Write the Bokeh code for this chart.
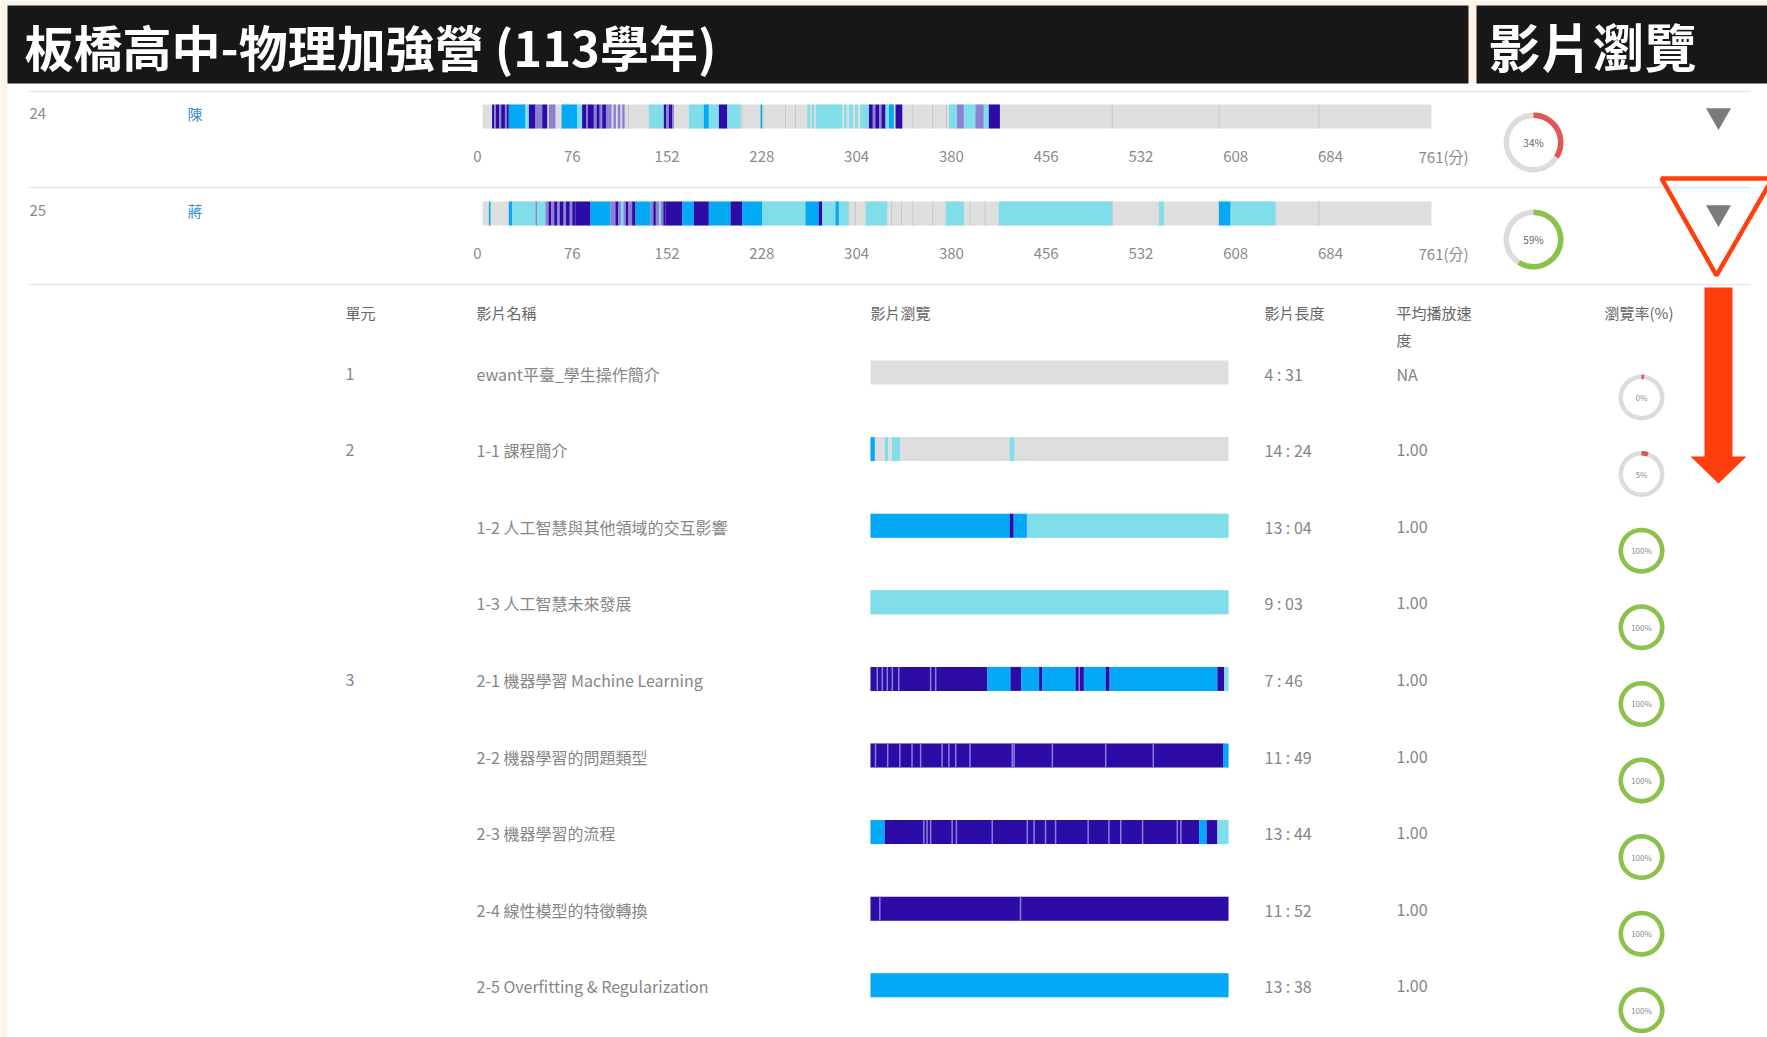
import math
from bokeh.plotting import figure
from bokeh.models import Range1d, ColumnDataSource
from bokeh.core.properties import value
from bokeh.embed import file_html
from bokeh.resources import INLINE

# ---------------- data ----------------
title_text = "板橋高中-物理加強營 (113學年)"
panel_title = "影片瀏覽"

total_minutes = 761
timeline_ticks = [0, 76, 152, 228, 304, 380, 456, 532, 608, 684, 761]
tick_unit = "(分)"

student_ids = ["24", "25"]
student_names = ["陳", "蔣"]
student_rates = [34, 59]

# boundaries between course videos (minutes), visible as thin lines in grey parts
video_boundaries = [117, 208, 225, 243, 251, 299, 328, 336, 345, 361, 372, 391, 403, 505, 590.5, 670.7]

# (start minute, end minute, level)  level: 1 viewed once, 2 twice, 3 many, 4 mixed
segments_24 = [
    (7.7, 9.5, 3), (9.5, 10.8, 4), (10.8, 13.5, 3), (13.5, 15, 4), (15, 18, 3), (18, 19.5, 4), (19.5, 21.1, 3),
    (21.1, 34.5, 2), (34.5, 37.2, 1), (37.2, 42.5, 3), (42.5, 47.9, 4), (47.9, 51.9, 3), (53.2, 58.5, 4),
    (63.4, 75.9, 2), (75.9, 79.9, 1),
    (79.9, 83, 3), (83, 84.5, 4), (84.5, 89.3, 3), (89.3, 91.5, 4), (91.5, 94, 3), (94, 96, 4), (96, 99, 3),
    (99, 101.3, 4), (101.3, 103.5, 4), (105, 107, 4), (108.5, 110.5, 4), (112, 114, 4),
    (133.4, 145.4, 1), (145.4, 147.5, 3), (147.5, 149.5, 4), (149.5, 152, 3), (152, 153.4, 4),
    (165.5, 177.5, 1), (177.5, 181.5, 2), (181.5, 189.6, 1), (189.6, 196.3, 3), (196.3, 206.9, 1),
    (223, 224.3, 2),
    (260.4, 262.5, 1), (264, 266, 1), (267.5, 288.5, 1), (290, 292, 1), (294, 297, 1), (299, 301, 1), (303, 309.9, 1),
    (309.9, 313, 3), (313, 315, 4), (315, 318, 3), (318, 320, 4), (320, 323.2, 3), (323.2, 325.9, 1),
    (325.9, 329.9, 2), (331.2, 336.6, 3),
    (374, 380.6, 1), (380.6, 386, 4), (386, 395.3, 1), (395.3, 402, 4), (402, 406, 1), (406, 414.9, 3),
]

segments_25 = [
    (5.1, 6.4, 2), (21.1, 23.8, 2), (23.8, 42.5, 1), (42.5, 44, 4), (44, 50.5, 1),
    (50.5, 53, 4), (53, 55, 3), (55, 57.5, 4), (57.5, 60, 3), (60, 62, 4), (62, 65, 3), (65, 67, 4),
    (67, 70, 3), (70, 72, 4), (72, 74.6, 3),
    (74.6, 86.6, 3), (86.6, 102.7, 2), (102.7, 106.6, 4),
    (106.6, 109, 3), (109, 111, 4), (111, 113, 1), (113, 115, 4), (115, 117, 3), (117, 120, 4),
    (120, 122.7, 3), (122.7, 134.7, 2),
    (134.7, 137, 4), (137, 139, 3), (139, 141.5, 4), (141.5, 143, 1), (143, 145, 4), (145, 146.8, 3),
    (146.8, 160.1, 3), (160.1, 169.5, 2), (169.5, 181.5, 3), (181.5, 198.9, 2), (198.9, 208.2, 3),
    (208.2, 224.3, 2), (224.3, 259, 1), (259, 269.7, 2), (269.7, 272.4, 3), (272.4, 283.1, 1),
    (283.1, 285.8, 2), (285.8, 293.8, 1), (307.2, 324.5, 1), (371.5, 386, 1), (414, 505, 1),
    (542.4, 546.4, 1), (590.6, 599.9, 2), (599.9, 636, 1),
]

header_labels = ["單元", "影片名稱", "影片瀏覽", "影片長度", "平均播放速", "瀏覽率(%)"]
header_wrap = "度"

units = ["1", "2", "", "", "3", "", "", "", ""]
video_names = [
    "ewant平臺_學生操作簡介",
    "1-1 課程簡介",
    "1-2 人工智慧與其他領域的交互影響",
    "1-3 人工智慧未來發展",
    "2-1 機器學習 Machine Learning",
    "2-2 機器學習的問題類型",
    "2-3 機器學習的流程",
    "2-4 線性模型的特徵轉換",
    "2-5 Overfitting & Regularization",
]
video_lengths = ["4 : 31", "14 : 24", "13 : 04", "9 : 03", "7 : 46", "11 : 49", "13 : 44", "11 : 52", "13 : 38"]
play_speeds = ["NA", "1.00", "1.00", "1.00", "1.00", "1.00", "1.00", "1.00", "1.00"]
view_rates = [0, 5, 100, 100, 100, 100, 100, 100, 100]

# per video: (start fraction, end fraction, level)
video_segments = [
    [],
    [(0, 0.012, 2), (0.04, 0.049, 1), (0.06, 0.082, 1), (0.389, 0.402, 1)],
    [(0, 0.389, 2), (0.389, 0.4, 3), (0.4, 0.437, 2), (0.437, 1, 1)],
    [(0, 1, 1)],
    [(0, 0.326, 3), (0.326, 0.391, 2), (0.391, 0.421, 3), (0.421, 0.471, 2), (0.471, 0.48, 3),
     (0.48, 0.573, 2), (0.573, 0.596, 3), (0.596, 0.657, 2), (0.657, 0.668, 3), (0.668, 0.969, 2),
     (0.969, 0.988, 3), (0.988, 1, 1)],
    [(0, 0.986, 3), (0.986, 1, 2)],
    [(0, 0.04, 2), (0.04, 0.918, 3), (0.918, 0.939, 2), (0.939, 0.969, 3), (0.969, 1, 1)],
    [(0, 1, 3)],
    [(0, 1, 2)],
]
# thin lighter marks inside the heavily viewed parts
video_marks = [
    [], [], [], [],
    [0.019, 0.033, 0.047, 0.061, 0.079, 0.168, 0.182, 0.583],
    [0.014, 0.048, 0.082, 0.116, 0.140, 0.200, 0.219, 0.238, 0.278, 0.396, 0.401, 0.508, 0.657, 0.790],
    [0.149, 0.158, 0.168, 0.228, 0.240, 0.340, 0.438, 0.457, 0.489, 0.517, 0.608, 0.666, 0.699, 0.760, 0.857, 0.867],
    [0.026, 0.419],
    [],
]

# ---------------- styling / layout ----------------
FONT = "Noto Sans CJK TC"
LEVEL_COLORS = {1: "#80deea", 2: "#03a9f4", 3: "#2d0ba6", 4: "#8c80d2"}
GREY_BAR = "#dedede"
TEXT_GREY = "#858585"
RED = "#ff3d0d"

W, H = 1767, 1037
X0, Y0 = 0, 0                        # plot units equal reference pixels
TL_LEFT, TL_RIGHT = 482, 1431        # timeline bar span (px)
VB_LEFT, VB_RIGHT = 870, 1228        # per-video bar span (px)

p = figure(width=W, height=H, x_range=Range1d(X0, X0 + W), y_range=Range1d(Y0 + H, Y0),
           output_backend="svg", toolbar_location=None, x_axis_location=None, y_axis_location=None,
           min_border=0)
p.grid.visible = False
p.outline_line_color = None
p.background_fill_color = "#ffffff"
p.border_fill_color = "#ffffff"

# minute scale for timelines
k_min = (TL_RIGHT - TL_LEFT) / total_minutes
p.extra_x_ranges["min"] = Range1d(-(TL_LEFT - X0) / k_min, total_minutes + (X0 + W - TL_RIGHT) / k_min)
# fraction scale for per-video bars
k_fr = VB_RIGHT - VB_LEFT
p.extra_x_ranges["frac"] = Range1d(-(VB_LEFT - X0) / k_fr, 1 + (X0 + W - VB_RIGHT) / k_fr)

# ---- page edge tint ----
p.quad(left=[0, 0, 1468], right=[7, 1767, 1476], top=[0, 0, 0], bottom=[1037, 5, 83],
       fill_color="#fdf3e9", line_color=None)

# ---- title bars ----
p.quad(left=[7, 1476], right=[1468, 1767], top=[5, 5], bottom=[83, 83], fill_color="#171717", line_color=None)
p.text(x=[24], y=[45], text=[title_text], text_font=value(FONT), text_font_style="bold",
       text_font_size="49px", text_color="white", text_baseline="middle")
p.text(x=[1488], y=[45], text=[panel_title], text_font=value(FONT), text_font_style="bold",
       text_font_size="52px", text_color="white", text_baseline="middle")

# ---- separators ----
p.segment(x0=[28, 28, 28], x1=[1750, 1750, 1750], y0=[91, 187, 284], y1=[91, 187, 284],
          line_color="#e6e6e6", line_width=1.5)

# ---- student timelines ----
STUDENT_Y = [116, 213]
BAR_H = 12
for i, segs in enumerate([segments_24, segments_25]):
    yc = STUDENT_Y[i]
    p.quad(left=[0], right=[total_minutes], top=[yc - BAR_H], bottom=[yc + BAR_H],
           fill_color=GREY_BAR, line_color=None, x_range_name="min")
    p.segment(x0=video_boundaries, x1=video_boundaries, y0=[yc - BAR_H] * len(video_boundaries),
              y1=[yc + BAR_H] * len(video_boundaries), line_color="#c8c8c8", line_width=1, x_range_name="min")
    src = ColumnDataSource(dict(
        left=[s[0] for s in segs], right=[s[1] for s in segs],
        top=[yc - BAR_H] * len(segs), bottom=[yc + BAR_H] * len(segs),
        color=[LEVEL_COLORS[s[2]] for s in segs]))
    p.quad(left="left", right="right", top="top", bottom="bottom", fill_color="color",
           line_color=None, source=src, x_range_name="min")
    # tick labels
    labels = [str(t) for t in timeline_ticks[:-1]]
    p.text(x=timeline_ticks[:-1], y=[yc + 40] * len(labels), text=labels, text_font=value(FONT),
           text_font_size="15px", text_color="#8a8a8a", text_align="center", text_baseline="middle",
           x_offset=-5, x_range_name="min")
    p.text(x=[timeline_ticks[-1]], y=[yc + 40], text=[f"{timeline_ticks[-1]}{tick_unit}"], text_font=value(FONT),
           text_font_size="15px", text_color="#8a8a8a", text_align="left", text_baseline="middle",
           x_offset=-13, x_range_name="min")
    # id + name
    p.text(x=[29], y=[yc - 3], text=[student_ids[i]], text_font=value(FONT), text_font_size="15px",
           text_color="#8a8a8a", text_baseline="middle")
    p.text(x=[187], y=[yc - 3], text=[student_names[i]], text_font=value(FONT), text_font_size="15px",
           text_color="#3f8fcf", text_baseline="middle")
    # rate ring
    rate = student_rates[i]
    ring_col = "#8bc34a" if rate >= 50 else "#e05656"
    cx, cy = 1533, yc + 26
    p.annulus(x=[cx], y=[cy], inner_radius=24.5, outer_radius=30, inner_radius_units="screen",
              outer_radius_units="screen", fill_color="#dcdcdc", line_color=None)
    p.annular_wedge(x=[cx], y=[cy], inner_radius=24.5, outer_radius=30, inner_radius_units="screen",
                    outer_radius_units="screen", start_angle=math.pi / 2,
                    end_angle=math.pi / 2 - 2 * math.pi * rate / 100, direction="clock",
                    fill_color=ring_col, line_color=None)
    p.text(x=[cx], y=[cy], text=[f"{rate}%"], text_font=value(FONT), text_font_size="10px",
           text_color="#666666", text_align="center", text_baseline="middle")
    # expand triangle
    p.scatter(x=[1718], y=[yc - 1], marker="inverted_triangle", size=25, fill_color="#7b7b7b", line_color=None)

# ---- detail table header ----
HEAD_Y = 312
head_x = [345, 476, 870, 1264, 1396, 1604]
p.text(x=head_x, y=[HEAD_Y] * len(head_x), text=header_labels, text_font=value(FONT), text_font_size="15px",
       text_color="#666666", text_baseline="middle")
p.text(x=[1396], y=[HEAD_Y + 27], text=[header_wrap], text_font=value(FONT), text_font_size="15px",
       text_color="#666666", text_baseline="middle")

# ---- detail rows ----
ROW_Y0, ROW_STEP = 372, 76.6
VB_H = 12
row_y = [ROW_Y0 + ROW_STEP * i for i in range(len(video_names))]
n = len(video_names)
for xs, col in ((345, units), (476, video_names), (1264, video_lengths), (1396, play_speeds)):
    p.text(x=[xs] * n, y=[y + 1 for y in row_y], text=col, text_font=value(FONT), text_font_size="16px",
           text_color=TEXT_GREY, text_baseline="middle")

# base bars
p.quad(left=[0] * n, right=[1] * n, top=[y - VB_H for y in row_y], bottom=[y + VB_H for y in row_y],
       fill_color=GREY_BAR, line_color=None, x_range_name="frac")
L, R, T, B, C = [], [], [], [], []
for y, segs in zip(row_y, video_segments):
    for s in segs:
        L.append(s[0]); R.append(s[1]); T.append(y - VB_H); B.append(y + VB_H); C.append(LEVEL_COLORS[s[2]])
p.quad(left="left", right="right", top="top", bottom="bottom", fill_color="color", line_color=None,
       source=ColumnDataSource(dict(left=L, right=R, top=T, bottom=B, color=C)), x_range_name="frac")
MX, MY0, MY1 = [], [], []
for y, marks in zip(row_y, video_marks):
    for m in marks:
        MX.append(m); MY0.append(y - VB_H); MY1.append(y + VB_H)
p.segment(x0=MX, x1=MX, y0=MY0, y1=MY1, line_color="#8a7ee0", line_width=1.5, x_range_name="frac")

# rate rings
RING_IN, RING_OUT = 18.5, 23
ring_x = [1641] * n
ring_y = [y + 25 for y in row_y]
p.annulus(x=ring_x, y=ring_y, inner_radius=RING_IN, outer_radius=RING_OUT, inner_radius_units="screen",
          outer_radius_units="screen", fill_color="#dcdcdc", line_color=None)
for x, y, r in zip(ring_x, ring_y, view_rates):
    col = "#8bc34a" if r >= 50 else "#d9534f"
    frac = max(r, 2) / 100
    if frac >= 1:
        p.annulus(x=[x], y=[y], inner_radius=RING_IN, outer_radius=RING_OUT, inner_radius_units="screen",
                  outer_radius_units="screen", fill_color=col, line_color=None)
    else:
        p.annular_wedge(x=[x], y=[y], inner_radius=RING_IN, outer_radius=RING_OUT, inner_radius_units="screen",
                        outer_radius_units="screen", start_angle=math.pi / 2,
                        end_angle=math.pi / 2 - 2 * math.pi * frac, direction="clock",
                        fill_color=col, line_color=None)
p.text(x=ring_x, y=ring_y, text=[f"{r}%" for r in view_rates], text_font=value(FONT), text_font_size="8px",
       text_color="#8a8a8a", text_align="center", text_baseline="middle")

# ---- red annotation ----
p.patch(x=[1661, 1772, 1716], y=[178, 178, 275], fill_color=None, line_color=RED, line_width=4.5)
p.quad(left=[1704], right=[1732], top=[287], bottom=[457], fill_color=RED, line_color=None)
p.patch(x=[1690, 1746, 1718], y=[456, 456, 483], fill_color=RED, line_color=None)

open("out.html", "w").write(file_html(p, INLINE))
